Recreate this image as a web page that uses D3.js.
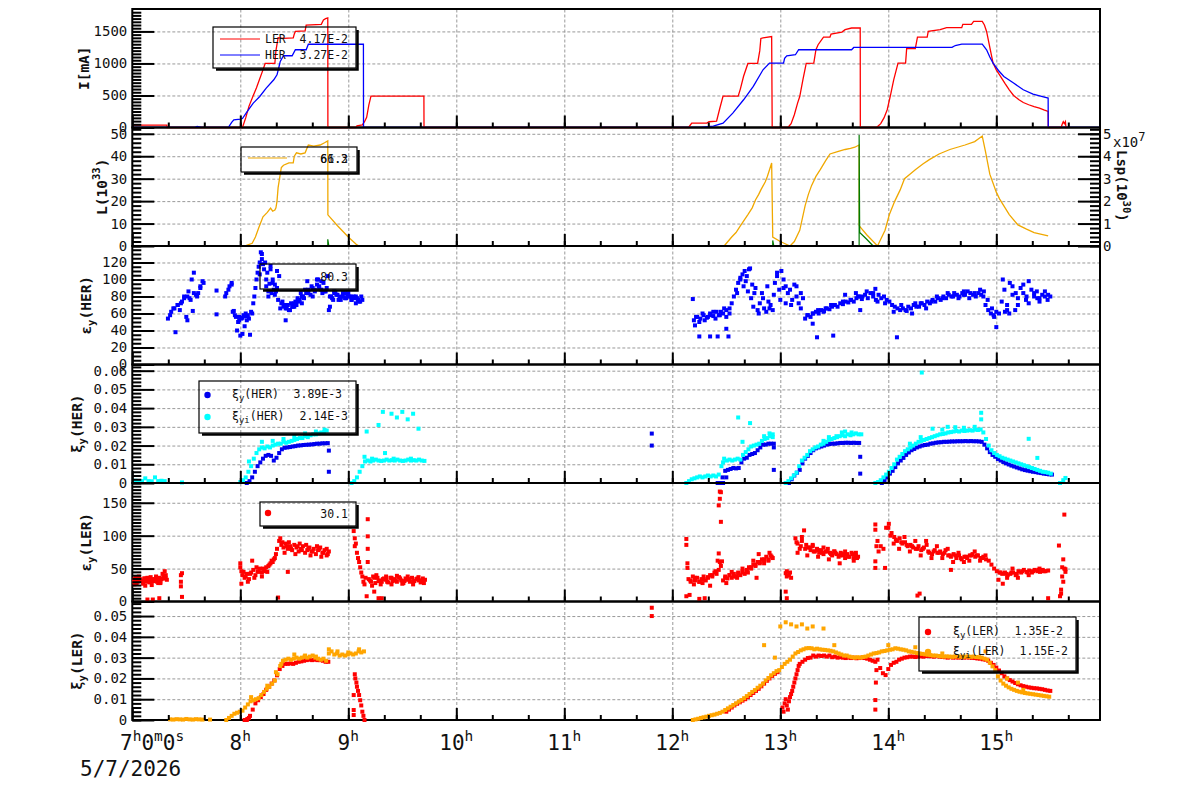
<!DOCTYPE html>
<html lang="en">
<head>
<meta charset="UTF-8">
<title>Beam monitor 5/7/2026</title>
<script src="https://d3js.org/d3.v7.min.js"></script>
<style>
  body { margin: 0; background: #fff; }
  svg { display: block; font-family: "DejaVu Sans Mono", monospace; }
  .grid line { stroke: #999; stroke-dasharray: 3,2; stroke-width: 1; }
  .grid .domain { display: none; }
  .tk line { stroke: #000; stroke-width: 2; }
  .tk .domain { display: none; }
  .tk text { font-family: "DejaVu Sans Mono", monospace; font-size: 14px; fill: #111; }
</style>
</head>
<body>
<svg id="chart" width="1200" height="798"></svg>
<script>
// ---- tick values / labels ----
const hourTicks = [7, 8, 9, 10, 11, 12, 13, 14, 15];
const dateLabel = "5/7/2026";
const curTicks = [0, 500, 1000, 1500];
const lumTicks = [0, 10, 20, 30, 40, 50];
const lspTicks = [0, 1, 2, 3, 4, 5];          // x10^7
const herEmitTicks = [0, 20, 40, 60, 80, 100, 120];
const herXiTicks = [0, 0.01, 0.02, 0.03, 0.04, 0.05, 0.06];
const lerEmitTicks = [0, 50, 100, 150];
const lerXiTicks = [0, 0.01, 0.02, 0.03, 0.04, 0.05];

// ---- beam currents [hour, mA] ----
const lerCurrent = [[7.0,37],[7.32,37],[7.321,0],[8.02,0],[8.05,150],[8.08,330],[8.12,500],[8.15,620],[8.18,760],[8.21,900],[8.23,1000],[8.32,1000],[8.33,1200],[8.35,1400],[8.4,1390],[8.49,1400],[8.5,1460],[8.51,1500],[8.6,1510],[8.61,1600],[8.75,1610],[8.77,1680],[8.79,1700],[8.81,1710],[8.811,0],[9.07,0],[9.08,25],[9.13,40],[9.15,90],[9.17,160],[9.19,350],[9.21,490],[9.7,490],[9.701,0],[12.15,0],[12.18,68],[12.32,68],[12.34,90],[12.41,100],[12.44,300],[12.47,490],[12.61,490],[12.63,600],[12.66,800],[12.7,1000],[12.79,1000],[12.81,1200],[12.82,1390],[12.84,1400],[12.92,1420],[12.925,0],[13.07,0],[13.1,60],[13.13,200],[13.16,380],[13.18,484],[13.21,750],[13.24,1000],[13.31,1006],[13.33,1214],[13.35,1292],[13.4,1412],[13.46,1412],[13.47,1459],[13.57,1490],[13.6,1527],[13.66,1553],[13.74,1553],[13.741,0],[13.89,0],[13.93,60],[13.96,150],[13.99,277],[14.02,500],[14.05,745],[14.09,1006],[14.16,1006],[14.17,1230],[14.25,1230],[14.27,1412],[14.36,1412],[14.37,1500],[14.48,1527],[14.54,1558],[14.68,1558],[14.69,1610],[14.77,1610],[14.79,1657],[14.87,1657],[14.89,1600],[14.91,1500],[14.94,1250],[14.97,1006],[15.0,900],[15.03,823],[15.08,690],[15.12,589],[15.16,500],[15.21,433],[15.25,390],[15.3,355],[15.35,325],[15.4,303],[15.44,275],[15.48,250],[15.481,0],[15.6,0],[15.61,50],[15.62,90],[15.63,60],[15.64,90],[15.645,0],[15.66,0]];
const herCurrent = [[7.0,3],[7.58,3],[7.6,15],[7.64,3],[7.89,3],[7.92,80],[7.94,120],[8.0,130],[8.02,140],[8.06,240],[8.12,381],[8.18,484],[8.24,615],[8.31,745],[8.34,823],[8.36,960],[8.37,1032],[8.4,1120],[8.48,1120],[8.51,1214],[8.61,1214],[8.63,1300],[9.14,1300],[9.141,3],[12.26,3],[12.38,20],[12.47,68],[12.56,225],[12.66,433],[12.75,641],[12.84,901],[12.9,1006],[13.03,1006],[13.04,1080],[13.06,1120],[13.14,1136],[13.17,1214],[13.66,1214],[13.68,1250],[14.59,1250],[14.62,1280],[14.68,1303],[14.87,1303],[14.91,1214],[14.94,1100],[14.97,1006],[15.02,890],[15.07,797],[15.16,694],[15.25,589],[15.34,522],[15.41,490],[15.48,459],[15.481,3],[15.95,3]];

// ---- luminosity [hour, 1e33] and Lsp segments [hour, 1e7] ----
const lumData = [[8.0,0],[8.04,0],[8.07,0.5],[8.11,1.2],[8.14,4],[8.17,8],[8.21,13],[8.23,14],[8.25,15],[8.28,16.9],[8.3,15.5],[8.32,16],[8.33,17],[8.34,20],[8.35,26],[8.37,32],[8.38,35],[8.4,36],[8.45,37],[8.49,37],[8.5,40],[8.52,41.5],[8.56,41],[8.6,41.5],[8.63,45],[8.68,44.5],[8.74,45],[8.78,46],[8.81,46.8],[8.811,13.9],[8.9,9],[9.0,4],[9.08,0.5],[9.1,0],[12.48,0],[12.55,4],[12.59,6],[12.63,9],[12.7,14],[12.74,17],[12.77,20.5],[12.8,23],[12.82,25],[12.86,28.5],[12.88,31],[12.9,34],[12.92,37],[12.93,4],[13.0,2],[13.09,0],[13.13,2],[13.18,7],[13.23,18],[13.26,23],[13.29,27],[13.33,31],[13.37,34],[13.42,38],[13.46,41],[13.53,42],[13.6,43],[13.65,43.5],[13.69,44],[13.73,45],[13.731,9],[13.8,5],[13.9,0],[13.97,7],[14.01,14],[14.06,20],[14.11,25],[14.15,30],[14.2,32],[14.25,34],[14.32,36.5],[14.38,38.5],[14.47,41],[14.57,43],[14.64,44],[14.71,45],[14.8,46.5],[14.87,49],[14.9,42],[14.94,32],[15.0,24],[15.03,21],[15.12,14],[15.2,9.4],[15.28,7.5],[15.35,6],[15.42,5.2],[15.48,4.5]];
const lspSegments = [
  [[8.81,0],[8.81,0.3],[8.82,0]],
  [[12.93,0],[12.93,0.25],[12.94,0]],
  [[13.73,0],[13.73,4.95],[13.735,0.6],[13.8,0.3],[13.86,0]]
];

// ---- scatter series: runs [startHour, stepHour, values] + single points ----
const herEmitRuns = [
  [7.33, 0.03, [54,62,66,70,72,78,80,76,84,80,90,96]],
  [7.86, 0.03, [80,88,96]],
  [7.93, 0.03, [62,56,52,55,57,54,60]],
  [8.12, 0.02, [72,90,108,120,130]],
  [8.22, 0.02, [112,100,86,116,96,82,90,104]],
  [8.38, 0.02, [72,68,66,70,64,68,72,70,74]],
  [8.55, 0.02, [76,80,78,84,88,82,90,86,100,92,88,96,86]],
  [8.81, 0.02, [104,80,78,84,82,76,80,84,78,82,80,76,78,80,76,74,76]],
  [12.2, 0.03, [52,56,54,58,55,60,57,62,58,60,56,60]],
  [12.53, 0.02, [66,72,80,88,96,100,106,110,104,112]],
  [12.73, 0.02, [78,68,90,64,72,84,66,62,74,70,64]],
  [12.95, 0.02, [96,104,88,110,100,92,84]],
  [13.09, 0.02, [88,76,94,80,72,84,78]],
  [13.23, 0.025, [54,58,56,60,62,60,64,63,66,65,68,70,68,72,71,74,73,76,74,78,80,77]],
  [13.76, 0.025, [80,82,78,84,80,76,82,78,80,76]],
  [14.01, 0.025, [74,70,68,66,64,66,64,68,66,70,68]],
  [14.285, 0.025, [68,72,70,74,72,76,74,78,76,80,78,82,80,84,82,80,84,82,86,84,82,80,84,82,86]],
  [14.9, 0.025, [70,64,60,58,62,60]],
  [15.05, 0.025, [74,88,70,96,82,64,78,90,84,76,98,88,80,86,78,82,80,76,80]]
];
const herEmitExtra = [[7.40,38],[7.44,64],[7.52,86],[7.55,100],[7.57,108],[7.56,63],[7.5,56],[7.51,52],[7.61,84],[7.63,92],[7.65,98],[7.35,58],[7.38,66],[7.42,70],[7.46,74],[7.48,80],[7.53,78],[7.59,82],[7.78,87],[7.78,59],[7.87,84],[7.9,92],[7.92,94],[7.95,58],[7.98,50],[8.0,34],[8.02,36],[7.97,40],[8.05,60],[8.07,58],[8.09,35],[8.04,45],[8.1,62],[7.94,63],[7.99,56],[8.01,54],[8.03,58],[8.06,52],[8.13,80],[8.15,100],[8.17,115],[8.19,132],[8.2,124],[8.18,106],[8.23,120],[8.25,108],[8.27,95],[8.29,84],[8.31,88],[8.26,80],[8.34,110],[8.42,52],[8.45,64],[8.5,68],[8.57,72],[8.62,98],[8.67,80],[8.72,100],[8.76,84],[8.82,64],[8.83,68],[8.87,86],[8.92,78],[8.97,84],[9.02,80],[9.07,72],
  [8.21,118],[8.24,92],[8.28,112],[8.3,100],[8.32,94],[8.33,86],[8.35,76],[8.37,66],[8.39,74],[8.41,70],[8.43,66],[8.47,72],[8.49,68],[8.51,74],[8.53,78],[8.56,84],[8.58,80],[8.6,88],[8.63,84],[8.66,92],[8.69,88],[8.71,94],[8.73,90],[8.75,98],[8.78,86],[8.8,90],[8.84,80],[8.86,76],[8.88,84],[8.9,82],[8.93,76],[8.95,80],[8.98,78],[9.0,84],[9.03,76],[9.05,80],[9.08,78],[9.1,74],[9.12,80],
  [12.19,77],[12.21,46],[12.25,50],[12.3,52],[12.35,58],[12.4,54],[12.45,62],[12.5,64],[12.25,33],[12.35,33],[12.42,33],[12.5,42],[12.52,33],[12.22,56],[12.28,60],[12.33,56],[12.38,62],[12.43,58],[12.48,66],[12.6,84],[12.63,102],[12.66,92],[12.68,98],[12.7,86],[12.72,113],[12.74,94],[12.76,84],[12.8,60],[12.84,78],[12.88,92],[12.9,66],[12.94,82],[12.97,108],[13.0,76],[13.03,90],[13.05,72],[13.1,70],[13.15,92],[13.19,66],[13.3,48],[13.34,32],[13.49,34],[13.4,62],[13.47,70],[13.6,82],[13.7,84],[13.74,64],[13.25,58],[13.3,60],[13.35,64],[13.42,66],[13.5,70],[13.58,74],[13.65,76],[13.72,80],[13.8,86],[13.86,84],[13.88,89],[13.9,74],[13.97,72],[14.05,62],[14.08,32],[14.12,70],[14.17,63],[14.22,60],[14.25,72],[14.35,66],[14.45,80],[14.55,84],[14.65,78],[14.75,78],[14.85,88],[14.7,86],[14.3,72],[14.4,74],[14.5,78],[14.6,80],[14.7,82],[14.8,84],[14.88,80],[14.92,76],[14.96,66],[15.0,44],[14.98,56],[15.06,100],[15.1,64],[15.15,92],[15.2,70],[15.25,94],[15.3,72],[15.35,84],[15.4,74],[15.45,86],[15.12,60],[15.08,62],[15.18,84],[15.28,80],[15.38,78],[15.48,82]];

const herXiRuns = [
  [8.06, 0.025, [0,0.001,0.003,0.006,0.009,0.011,0.013,0.0145,0.015,0.0145,0.012,0.0135,0.016,0.018,0.0188,0.019,0.0192,0.0195,0.0197,0.02,0.0201,0.0203,0.0204,0.0205,0.0206,0.0208,0.021,0.021,0.0212,0.0212,0.0213]],
  [12.44, 0.025, [0,0.003,0.0065,0.007,0.0075,0.008,0.0078,0.008,0.011,0.013,0.0135,0.015,0.0155,0.016,0.0175,0.019,0.0205,0.0205,0.021,0.021,0.021]],
  [13.08, 0.025, [0,0.002,0.004,0.0055,0.007,0.0105,0.013,0.0145,0.016,0.0175,0.0185,0.019,0.0195,0.02,0.0205,0.0208,0.021,0.021,0.0212,0.0214,0.0214,0.0215,0.0215,0.0214,0.0215,0.0214,0.0214]],
  [13.94, 0.025, [0,0.0015,0.003,0.005,0.0065,0.0085,0.0105,0.012,0.0134,0.015,0.0163,0.0175,0.0182,0.019,0.0195,0.02,0.0203,0.0205,0.021,0.0212,0.0215,0.0217,0.0218,0.022,0.022,0.0221,0.0222,0.0222,0.0223,0.0223,0.0223,0.0224,0.0223,0.0224,0.0223,0.0223,0.0222,0.022,0.0205,0.0185,0.0165,0.015,0.014,0.0128,0.012,0.0112,0.0105,0.0099,0.0093,0.0088,0.0083,0.0078,0.0073,0.0069,0.0066,0.0063,0.006,0.0058,0.0055,0.0053,0.005,0.0048,0.0046,0.0045]]
];
const herXiExtra = [[8.82,0.0173],[8.82,0.006],[11.81,0.0264],[11.81,0.02],[12.94,0.019],[12.94,0.007],[12.5,0.003],[12.47,0],[12.42,0],[13.74,0.014],[13.74,0.005]];

const herXiiRuns = [
  [7.0, 0.03, [0.001,0.0012,0.0008,0.001,0.0025,0.001,0.0009,0.003,0.001,0.0012,0.001]],
  [8.0, 0.025, [0.0005,0.0015,0.003,0.006,0.009,0.013,0.016,0.018,0.019,0.0185,0.0195,0.019,0.02,0.0205,0.021,0.021,0.022,0.0215,0.022,0.0225,0.023,0.0235,0.024,0.024,0.025,0.0245,0.0255,0.026,0.026,0.0265,0.027,0.027,0.028]],
  [9.03, 0.025, [0,0.001,0.003,0.006,0.009,0.0115,0.012,0.0115,0.012,0.0125,0.012,0.0118,0.012,0.0125,0.012,0.0122,0.012,0.0125,0.012,0.0118,0.012,0.0125,0.012,0.0122,0.012,0.0125,0.012,0.0118]],
  [12.13, 0.025, [0,0.001,0.002,0.0025,0.003,0.0035,0.003,0.0035,0.004,0.0035,0.004,0.0035,0.0045,0.009,0.013,0.012,0.0125,0.012,0.0125,0.013,0.0125,0.015,0.0165,0.018,0.0195,0.02,0.0205,0.021,0.0225,0.0235,0.024,0.025,0.026]],
  [13.05, 0.025, [0,0.001,0.0025,0.004,0.0055,0.009,0.012,0.0135,0.015,0.017,0.018,0.019,0.0195,0.0205,0.021,0.022,0.023,0.0235,0.024,0.0245,0.025,0.0255,0.025,0.026,0.0255,0.026,0.0265,0.026,0.026]],
  [13.88, 0.025, [0,0.0005,0.0015,0.003,0.0045,0.006,0.008,0.01,0.0125,0.014,0.0155,0.017,0.018,0.019,0.02,0.021,0.022,0.0225,0.023,0.0235,0.024,0.0245,0.025,0.0255,0.026,0.0262,0.0265,0.027,0.0272,0.0275,0.0278,0.0275,0.028,0.0278,0.028,0.0282,0.028,0.0285,0.0283,0.0286,0.027,0.0235,0.02,0.0175,0.016,0.015,0.0143,0.0135,0.013,0.0125,0.012,0.0115,0.011,0.0105,0.01,0.0095,0.009,0.0085,0.008,0.0075,0.007,0.0065,0.006,0.0058,0.0055,0.005]]
];
const herXiiExtra = [[7.46,0.0003],[8.08,0.0115],[8.2,0.022],[8.3,0.0225],[8.4,0.0235],[8.5,0.025],[8.6,0.0265],[8.7,0.0275],[8.78,0.0285],[9.17,0.0275],[9.32,0.038],[9.4,0.037],[9.28,0.031],[9.34,0.016],[9.45,0.035],[9.5,0.038],[9.55,0.034],[9.6,0.037],[9.65,0.029],[9.42,0.013],[9.58,0.013],[9.15,0.014],[9.22,0.013],[12.61,0.035],[12.72,0.032],[12.65,0.022],[12.47,0.011],[12.85,0.025],[12.9,0.0265],[12.93,0.0245],[13.57,0.027],[13.6,0.0275],[13.66,0.027],[13.52,0.025],[13.45,0.0245],[13.4,0.0225],[14.31,0.059],[14.86,0.0375],[14.86,0.034],[15.3,0.0236],[15.38,0.0134],[14.41,0.029],[14.55,0.03],[14.7,0.0295],[14.5,0.0285],[14.8,0.03],[14.62,0.0298],[14.3,0.0245],[14.2,0.021],[15.59,0],[15.62,0.0015],[15.64,0.0027]];

const lerEmitRuns = [
  [7.0, 0.02, [30,34,28,36,32,30,35,33,29,34,31,36,32,28,35,38,33]],
  [8.0, 0.02, [52,40,36,42,34,44,48,40,46,50,44,48,52,54,58,60,66,80,92,86,82,88,80,84,78,86,82,76,80,84,74,78,82,76,80,72,78,82,74,78,70,76]],
  [9.19, 0.02, [34,30,38,28,36,32,30,35,33,29,36,31,34,30,37,32,28,35,33,30,36,31,34,32,29,35,33]],
  [12.15, 0.02, [34,30,38,32,36,30,34,38,32,36,40,38,44,42,48,54]],
  [12.47, 0.02, [32,38,35,40,36,42,38,44,40,46,42,48,52,50,56,54,60,58,64,62,68,64,70,66]],
  [13.14, 0.02, [96,88,80,92,108,86,82,78,84,76,80,74,78,72,76,80,74,70,76,72,68,74,70,66,72,68,74,66,70,68]],
  [13.93, 0.025, [84,80,112,118,104,98,92,96,88,90,84,86,82,80,84,78,82,86,74,72,78,74,76,72,78,70,68,72,66,70,64,68,66,70,72,68,70,66,68,64,62,56,50,46,44,42,44,40,42,44,40,46,44,48,45,47,44,48,46,45,48,46,47]]
];
const lerEmitExtra = [[7.02,26],[7.06,38],[7.1,27],[7.14,36],[7.18,25],[7.22,38],[7.26,30],[7.28,42],[7.3,46],[7.31,40],[7.24,28],[7.12,24],[7.14,3],[7.19,3],[7.25,5],[7.45,40],[7.46,43],[7.45,23],[7.46,7],[7.45,30],
  [7.01,32],[7.03,36],[7.05,30],[7.07,34],[7.09,31],[7.11,35],[7.13,30],[7.15,33],[7.17,37],[7.19,31],[7.21,34],[7.23,30],[7.25,36],[7.27,34],[7.29,38],[7.31,35],
  [8.0,58],[8.01,27],[8.03,45],[8.07,30],[8.11,62],[8.15,52],[8.2,38],[8.25,45],[8.29,62],[8.33,72],[8.37,96],[8.41,74],[8.45,90],[8.51,72],[8.55,88],[8.61,86],[8.65,70],[8.71,84],[8.75,68],[8.8,80],[8.35,6],[8.44,45],[8.13,36],
  [8.01,46],[8.05,38],[8.09,42],[8.17,45],[8.21,50],[8.23,46],[8.27,56],[8.31,64],[8.39,90],[8.43,84],[8.47,80],[8.53,84],[8.57,78],[8.63,80],[8.67,76],[8.73,80],[8.77,74],[8.81,72],
  [9.05,107],[9.06,96],[9.06,84],[9.07,88],[9.08,74],[9.09,66],[9.1,60],[9.11,52],[9.12,44],[9.13,38],[9.14,30],[9.15,26],[9.16,36],[9.18,125],[9.18,99],[9.17,8],[9.18,80],[9.18,60],
  [9.22,24],[9.26,40],[9.3,26],[9.35,38],[9.4,26],[9.45,39],[9.5,27],[9.55,38],[9.6,26],[9.65,37],[9.7,28],[9.28,5],[9.31,5],[9.24,15],
  [9.2,32],[9.24,36],[9.28,31],[9.32,34],[9.36,30],[9.4,36],[9.44,32],[9.48,35],[9.52,31],[9.56,34],[9.6,30],[9.64,35],[9.68,32],
  [12.13,95],[12.13,86],[12.14,58],[12.14,51],[12.13,8],[12.16,10],[12.25,4],[12.3,5],[12.2,26],[12.28,28],[12.35,24],[12.4,46],[12.42,62],[12.44,60],
  [12.17,32],[12.21,36],[12.25,30],[12.29,34],[12.33,37],[12.37,40],
  [12.44,167],[12.45,166],[12.44,156],[12.43,146],[12.45,121],[12.43,73],[12.46,61],
  [12.5,28],[12.55,45],[12.6,36],[12.65,50],[12.7,44],[12.75,62],[12.78,36],[12.8,72],[12.85,58],[12.9,74],
  [12.49,36],[12.53,40],[12.57,38],[12.61,42],[12.65,44],[12.69,46],[12.73,52],[12.77,56],[12.81,60],[12.85,64],[12.89,62],[12.92,68],
  [13.05,43],[13.06,38],[13.06,46],[13.05,15],[13.06,5],[13.08,40],[13.09,44],[13.1,36],
  [13.16,74],[13.2,98],[13.25,70],[13.3,86],[13.35,68],[13.4,82],[13.45,64],[13.5,76],[13.55,58],[13.6,76],[13.68,62],[13.7,74],
  [13.15,90],[13.19,84],[13.23,80],[13.27,82],[13.31,76],[13.35,78],[13.39,74],[13.43,76],[13.47,72],[13.51,74],[13.55,70],[13.59,72],[13.63,68],[13.67,72],[13.71,66],
  [13.88,51],[13.88,61],[13.88,117],[13.88,109],[13.89,84],[13.9,92],[13.91,76],
  [13.97,51],[14.0,112],[14.05,88],[14.1,80],[14.15,98],[14.2,76],[14.25,92],[14.3,70],[14.35,92],[14.4,66],[14.45,84],[14.5,66],[14.55,80],[14.6,60],[14.65,74],[14.7,60],[14.75,62],[14.8,76],[14.85,62],[14.9,70],[15.02,33],[15.06,27],[15.1,36],[15.15,50],[15.2,36],[15.3,40],[15.4,50],[14.27,9],[14.29,12],[14.58,48],[15.48,5],
  [14.02,100],[14.07,94],[14.12,90],[14.17,86],[14.22,84],[14.27,80],[14.32,80],[14.37,76],[14.42,76],[14.47,74],[14.52,74],[14.57,70],[14.62,70],[14.67,66],[14.72,68],[14.77,70],[14.82,70],[14.87,66],[15.04,44],[15.09,42],[15.14,44],[15.19,42],[15.24,46],[15.29,44],[15.34,46],[15.39,48],[15.44,46],
  [15.58,85],[15.63,132],[15.62,64],[15.61,52],[15.64,49],[15.61,38],[15.6,18],[15.59,8],[15.62,30],[15.6,12],[15.63,50],[15.64,45]];

const lerXiRuns = [
  [8.04, 0.025, [0,0.0005,0.002,0.005,0.008,0.0095,0.011,0.0125,0.0145,0.016,0.0175,0.019,0.0215,0.0245,0.026,0.027,0.027,0.0272,0.027,0.0275,0.028,0.0282,0.0285,0.0288,0.029,0.0288,0.029,0.0288,0.0288,0.0285,0.028,0.028]],
  [12.5, 0.025, [0.004,0.005,0.006,0.007,0.0078,0.0085,0.0093,0.01,0.011,0.012,0.013,0.014,0.015,0.0162,0.0175,0.0188,0.02,0.0212,0.0222,0.023]],
  [13.18, 0.025, [0.027,0.028,0.029,0.0298,0.03,0.031,0.0305,0.031,0.0308,0.031,0.0305,0.031,0.0302,0.0305,0.03,0.0302,0.03,0.0298,0.03,0.0298,0.03,0.0297,0.0298,0.03,0.0298,0.0295,0.029,0.0285]],
  [13.9, 0.025, [0.029,0.025,0.0225,0.0216,0.0245,0.0265,0.0275,0.028,0.029,0.0295,0.03,0.0302,0.0305,0.0305,0.0303,0.0305,0.0306,0.0305,0.0307,0.0308,0.0306,0.0305,0.0307,0.0305,0.0303,0.0302,0.03,0.0302,0.03,0.0301,0.03,0.0302,0.03,0.0301,0.03,0.0299,0.0298,0.0296,0.0295,0.0292,0.029,0.0285,0.0275,0.0265,0.0252,0.0238,0.0225,0.021,0.02,0.0192,0.0185,0.0178,0.0172,0.0167,0.0163,0.016,0.0157,0.0155,0.0153,0.0152,0.015,0.0148,0.0145,0.0142,0.014]]
];
const lerXiExtra = [[8.06,0],[8.08,0.001],[9.06,0.022],[9.065,0.02],[9.075,0.018],[9.08,0.016],[9.09,0.014],[9.1,0.012],[9.11,0.0095],[9.12,0.007],[9.13,0.004],[9.14,0.002],[9.15,0],[9.05,0.012],[9.05,0.0048],[9.05,0.0024],[11.81,0.054],[11.81,0.05],[13.02,0.006],[13.03,0.004],[13.04,0.008],[13.05,0.01],[13.06,0.007],[13.07,0.005],[13.08,0.009],[13.09,0.011],[13.1,0.0125],[13.11,0.014],[13.12,0.016],[13.13,0.018],[13.14,0.02],[13.15,0.022],[13.16,0.024],[13.17,0.026],[13.88,0.0096],[13.88,0.005],[13.88,0.028],[13.885,0.018],[13.89,0.024]];

const lerXiiRuns = [
  [7.35, 0.03, [0.0003,0.0002,0.0004,0.0003,0.0002,0.0005,0.0003,0.0002,0.0004,0.0003,0.0002]],
  [7.87, 0.025, [0,0.001,0.002,0.003,0.0035,0.004,0.0045,0.006,0.0075,0.009,0.0095,0.01,0.0105,0.012,0.0135,0.015,0.016,0.0175,0.019,0.022,0.026,0.0285,0.029,0.0295,0.029,0.0295,0.03,0.0295,0.03,0.0305,0.03,0.0305,0.031,0.03,0.0295,0.029,0.0295,0.0285,0.032,0.033,0.0315,0.032,0.031,0.0315,0.031,0.0315,0.032,0.0315,0.032,0.033,0.0325,0.033]],
  [12.19, 0.025, [0,0.0003,0.0006,0.001,0.0013,0.0016,0.002,0.0023,0.0026,0.003,0.0034,
    0.004,0.0048,0.0056,0.0064,0.0072,0.008,0.0088,0.0096,0.0105,0.0115,0.0125,0.0135,0.0144,0.0155,0.0165,0.0175,0.019,0.0202,0.0215,0.0225,0.0235,0.024,
    0.0255,0.027,0.028,0.029,0.0305,0.032,0.0327,0.0335,0.034,0.0345,0.0346,0.0345,0.034,0.0343,0.034,0.0338,0.0337,0.0335,0.0333,0.033,
    0.0325,0.032,0.0315,0.031,0.031,0.0305,0.0302,0.03,0.0302,0.03,0.0303,0.0305,0.031,0.0315,0.032,0.0322,0.0325,0.033,0.0332,0.0335,
    0.0338,0.034,0.0345,0.0343,0.034,0.0338,0.0335,0.033,0.0328,0.0325,0.0322,0.032,0.0318,0.0316,0.0314,0.0312,0.031,0.031,0.0308,0.0306,
    0.0305,0.0306,0.0305,0.0304,0.0305,0.0306,0.0305,0.0304,0.0305,0.0305,0.0304,0.0305,0.0303,0.0302,0.03,0.0295,0.029,0.0275,0.0258,0.024,
    0.021,0.019,0.0175,0.0165,0.0157,0.015,0.0145,0.014,0.0136,0.0133,0.013,0.0128,0.0126,0.0124,0.0122,0.012,0.0118,0.0116,0.0114,0.0112]]
];
const lerXiiExtra = [[7.72,0.0002],[8.1,0.011],[8.25,0.0165],[8.33,0.023],[8.38,0.027],[8.5,0.0315],[8.6,0.031],[8.7,0.0305],[8.82,0.034],[8.9,0.033],[9.0,0.0325],[9.1,0.034],[13.0,0.045],[13.05,0.047],[13.1,0.046],[13.15,0.045],[13.2,0.046],[13.25,0.044],[13.3,0.045],[13.4,0.044],[12.85,0.036],[12.95,0.03],[13.5,0.036],[14.0,0.036],[14.25,0.035],[14.5,0.032],[15.1,0.02],[15.2,0.018],[14.9,0.033],[15.25,0.0145]];

// ---- layout ----
const X0 = 132.3, X1 = 1100;
const edges = [9, 127.5, 246, 364.5, 483, 601.5, 720];
const x = d3.scaleLinear().domain([7, 7 + (X1 - X0) / 108]).range([X0, X1]);
const svg = d3.select("#chart");
svg.append("rect").attr("width", 1200).attr("height", 798).attr("fill", "#fff");

function expand(runs, extra) {
  const pts = [];
  runs.forEach(([t0, dt, vals]) => vals.forEach((v, i) => pts.push([t0 + i * dt, v])));
  return pts.concat(extra);
}

const panels = [
  { max: 1850, ticks: curTicks, minor: 50, fmt: d => d, title: [["I[mA]", "n"]], tx: 89 },
  { max: 52.8, ticks: lumTicks, minor: 2, fmt: d => d, title: [["L(10", "n"], ["33", "sup"], [")", "n"]], tx: 107 },
  { max: 139.4, ticks: herEmitTicks, minor: 5, fmt: d => d, title: [["ε", "n"], ["y", "sub"], ["(HER)", "n"]], tx: 91 },
  { max: 0.0633, ticks: herXiTicks, minor: 0.002, fmt: d => d === 0 ? "0" : d3.format(".2f")(d), title: [["ξ", "n"], ["y", "sub"], ["(HER)", "n"]], tx: 82 },
  { max: 180, ticks: lerEmitTicks, minor: 5, fmt: d => d, title: [["ε", "n"], ["y", "sub"], ["(LER)", "n"]], tx: 91 },
  { max: 0.057, ticks: lerXiTicks, minor: 0.002, fmt: d => d === 0 ? "0" : d3.format(".2f")(d), title: [["ξ", "n"], ["y", "sub"], ["(LER)", "n"]], tx: 82 }
];

function richText(sel, parts, size, small) {
  let shift = 0;
  parts.forEach(([s, k]) => {
    const target = k === "sup" ? -0.45 * size : k === "sub" ? 0.3 * size : 0;
    sel.append("tspan").attr("dy", target - shift).attr("font-size", k === "n" ? size : small).text(s);
    shift = target;
  });
}

const defs = svg.append("defs");
panels.forEach((p, i) => {
  p.top = edges[i]; p.bottom = edges[i + 1];
  p.y = d3.scaleLinear().domain([0, p.max]).range([p.bottom, p.top]);
  p.g = svg.append("g");
  defs.append("clipPath").attr("id", "clip" + i).append("rect")
    .attr("x", X0).attr("y", p.top).attr("width", X1 - X0).attr("height", p.bottom - p.top + 2);

  // grid
  p.g.append("g").attr("class", "grid").attr("transform", `translate(0,${p.bottom})`)
    .call(d3.axisBottom(x).tickValues(hourTicks.slice(1)).tickSize(-(p.bottom - p.top)).tickFormat(""));
  p.g.append("g").attr("class", "grid").attr("transform", `translate(${X0},0)`)
    .call(d3.axisLeft(p.y).tickValues(p.ticks.filter(v => v > 0)).tickSize(-(X1 - X0)).tickFormat(""));

  // frame
  p.g.append("rect").attr("x", X0).attr("y", p.top).attr("width", X1 - X0).attr("height", p.bottom - p.top)
    .attr("fill", "none").attr("stroke", "#000").attr("stroke-width", 2);

  p.data = p.g.append("g").attr("clip-path", `url(#clip${i})`);

  // title
  const t = svg.append("text").attr("transform", `translate(${p.tx},${(p.top + p.bottom) / 2}) rotate(-90)`)
    .attr("text-anchor", "middle").attr("font-weight", "bold").attr("fill", "#111");
  richText(t, p.title, 14.5, 10.5);
});

// ---- data ----
function drawLine(p, data, yScale, color, w) {
  p.data.append("path").datum(data)
    .attr("d", d3.line().x(d => x(d[0])).y(d => yScale(d[1])))
    .attr("fill", "none").attr("stroke", color).attr("stroke-width", w || 1.3);
}
function drawDots(p, data, color) {
  p.data.append("g").selectAll("rect").data(data).join("rect")
    .attr("x", d => x(d[0]) - 2).attr("y", d => p.y(d[1]) - 2)
    .attr("width", 4).attr("height", 4).attr("fill", color);
}

const [pCur, pLum, pHe, pHx, pLe, pLx] = panels;
drawLine(pCur, lerCurrent, pCur.y, "#ff0000");
drawLine(pCur, herCurrent, pCur.y, "#0000ff");

const ySp = d3.scaleLinear().domain([0, 5.28]).range([pLum.bottom, pLum.top]);
drawLine(pLum, lumData, pLum.y, "#f0a800");
lspSegments.forEach(s => drawLine(pLum, s, ySp, "#007a00", 1.2));

drawDots(pHe, expand(herEmitRuns, herEmitExtra), "#0000ff");
drawDots(pHx, expand(herXiRuns, herXiExtra), "#0000ee");
drawDots(pHx, expand(herXiiRuns, herXiiExtra), "#00ffff");
drawDots(pLe, expand(lerEmitRuns, lerEmitExtra), "#ff0000");
drawDots(pLx, expand(lerXiRuns, lerXiExtra), "#ff0000");
drawDots(pLx, expand(lerXiiRuns, lerXiiExtra), "#ffa500");

// ---- ticks ----
panels.forEach(p => {
  const minorVals = d3.range(0, p.max, p.minor);
  p.g.append("g").attr("class", "tk").attr("transform", `translate(${X0},0)`)
    .call(d3.axisLeft(p.y).tickValues(minorVals).tickSize(-9).tickFormat(""));
  p.g.append("g").attr("class", "tk").attr("transform", `translate(${X0},0)`)
    .call(d3.axisLeft(p.y).tickValues(p.ticks).tickSize(-22).tickPadding(5).tickFormat(p.fmt))
    .attr("font-size", null).attr("font-family", null);
  p.g.append("g").attr("class", "tk").attr("transform", `translate(0,${p.bottom})`)
    .call(d3.axisBottom(x).tickValues(d3.range(7 + 1 / 3, 15.95, 1 / 3)).tickSize(-5).tickFormat(""));
  p.g.append("g").attr("class", "tk").attr("transform", `translate(0,${p.bottom})`)
    .call(d3.axisBottom(x).tickValues(hourTicks).tickSize(-12).tickFormat(""));
});

// right axis (Lsp)
pLum.g.append("g").attr("class", "tk").attr("transform", `translate(${X1},0)`)
  .call(d3.axisRight(ySp).tickValues(d3.range(0, 5.28, 0.2)).tickSize(-10).tickFormat(""));
pLum.g.append("g").attr("class", "tk").attr("transform", `translate(${X1},0)`)
  .call(d3.axisRight(ySp).tickValues(lspTicks).tickSize(-22).tickPadding(3).tickFormat(d3.format("d")))
  .attr("font-size", null).attr("font-family", null);
const xe = svg.append("text").attr("x", 1113).attr("y", 147).attr("font-size", 14).attr("fill", "#111");
richText(xe, [["x10", "n"], ["7", "sup"]], 14, 12);
const rt = svg.append("text").attr("transform", `translate(1117,150) rotate(90)`)
  .attr("font-weight", "bold").attr("fill", "#111");
richText(rt, [["Lsp(10", "n"], ["30", "sup"], [")", "n"]], 14, 10.5);

// time labels
const t7 = svg.append("text").attr("x", 120).attr("y", 750).attr("fill", "#111");
[["7", 0], ["h", 1], ["0", 0], ["m", 1], ["0", 0], ["s", 1]].forEach(([s, sup], i) => {
  t7.append("tspan").attr("dy", i === 0 ? 0 : (sup ? -9 : 9)).attr("font-size", sup ? 14.5 : 21).text(s);
});
hourTicks.slice(1).forEach(h => {
  const t = svg.append("text").attr("x", x(h)).attr("y", 750).attr("text-anchor", "middle").attr("fill", "#111");
  t.append("tspan").attr("font-size", 21).text(h);
  t.append("tspan").attr("dy", -9).attr("font-size", 14.5).text("h");
});
svg.append("text").attr("x", 80).attr("y", 776).attr("font-size", 21).attr("fill", "#111").text(dateLabel);

// ---- legends ----
function legendBox(x0, y0, x1, y1) {
  const g = svg.append("g");
  g.append("rect").attr("x", x0).attr("y", y0).attr("width", x1 - x0).attr("height", y1 - y0)
    .attr("fill", "none").attr("stroke", "#000").attr("stroke-width", 1.2);
  g.append("path").attr("d", `M${x1 + 1.5},${y0 + 3}V${y1 + 1.5}H${x0 + 3}`)
    .attr("fill", "none").attr("stroke", "#000").attr("stroke-width", 2.5);
  return g;
}
function legText(g, xp, yp, parts, anchor) {
  const t = g.append("text").attr("x", xp).attr("y", yp).attr("font-size", 11.5)
    .attr("fill", "#111").attr("text-anchor", anchor || "start");
  richText(t, parts, 11.5, 9);
}
let lg = legendBox(213, 27, 356, 68);
lg.append("line").attr("x1", 220).attr("x2", 260).attr("y1", 39).attr("y2", 39).attr("stroke", "#ff0000");
lg.append("line").attr("x1", 220).attr("x2", 260).attr("y1", 55).attr("y2", 55).attr("stroke", "#0000ff");
legText(lg, 265, 43, [["LER", "n"]]); legText(lg, 348, 43, [["4.17E-2", "n"]], "end");
legText(lg, 265, 59, [["HER", "n"]]); legText(lg, 348, 59, [["3.27E-2", "n"]], "end");

lg = legendBox(241, 147, 357, 172);
lg.append("line").attr("x1", 248).attr("x2", 287).attr("y1", 158).attr("y2", 158).attr("stroke", "#f0a800");
legText(lg, 348, 163, [["61.3", "n"]], "end");
legText(lg, 348, 163, [["66.2", "n"]], "end");

lg = legendBox(260, 264, 356, 289);
legText(lg, 348, 281, [["80.3", "n"]], "end");

lg = legendBox(199, 381, 356, 433);
lg.append("circle").attr("cx", 207.5).attr("cy", 395).attr("r", 3.2).attr("fill", "#0000ee");
lg.append("circle").attr("cx", 207.5).attr("cy", 417).attr("r", 3.2).attr("fill", "#00ffff");
legText(lg, 232, 398, [["ξ", "n"], ["y", "sub"], ["(HER)", "n"]]); legText(lg, 342, 398, [["3.89E-3", "n"]], "end");
legText(lg, 232, 420, [["ξ", "n"], ["yi", "sub"], ["(HER)", "n"]]); legText(lg, 348, 420, [["2.14E-3", "n"]], "end");

lg = legendBox(260, 502, 356, 526);
lg.append("circle").attr("cx", 268).attr("cy", 513).attr("r", 3.2).attr("fill", "#ff0000");
legText(lg, 348, 518, [["30.1", "n"]], "end");

lg = legendBox(919, 617, 1076, 671);
lg.append("circle").attr("cx", 928).attr("cy", 632).attr("r", 3.2).attr("fill", "#ff0000");
lg.append("circle").attr("cx", 928).attr("cy", 652).attr("r", 3.2).attr("fill", "#ffa500");
legText(lg, 953, 635, [["ξ", "n"], ["y", "sub"], ["(LER)", "n"]]); legText(lg, 1063, 635, [["1.35E-2", "n"]], "end");
legText(lg, 953, 655, [["ξ", "n"], ["yi", "sub"], ["(LER)", "n"]]); legText(lg, 1068, 655, [["1.15E-2", "n"]], "end");
</script>
</body>
</html>
